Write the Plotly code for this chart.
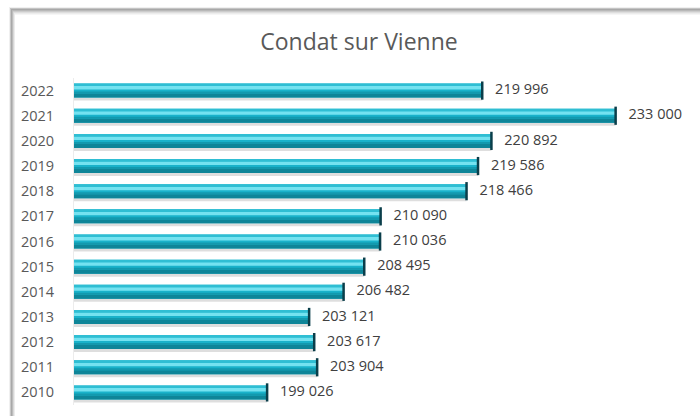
import plotly.graph_objects as go

years = ["2010", "2011", "2012", "2013", "2014", "2015", "2016", "2017", "2018", "2019", "2020", "2021", "2022"]
values = [199026, 203904, 203617, 203121, 206482, 208495, 210036, 210090, 218466, 219586, 220892, 233000, 219996]
labels = [f"{v:,}".replace(",", " ") for v in values]

U = 1 / 25.17  # one pixel in category units

fig = go.Figure()

def stripe(lo, hi, color):
    fig.add_trace(go.Bar(
        y=years, x=values, base=0, orientation="h",
        offset=lo * U, width=(hi - lo) * U,
        marker=dict(color=color, line=dict(width=0)),
        hoverinfo="skip", showlegend=False,
    ))

# shadow, body, dark underside, highlight, top edge
stripe(-10, -5, "rgba(0,0,0,0.13)")
stripe(-7, 7, "#19B2CA")
stripe(-7, -3, "#0E8598")
stripe(-3, -1, "#1399AE")
stripe(1, 4.5, "#74E2F0")
stripe(4.5, 7, "#2FBED3")

# dark end caps + value labels
fig.add_trace(go.Scatter(
    y=years, x=values, mode="markers+text",
    marker=dict(symbol="line-ns", size=13, line=dict(width=2.5, color="#0A3E4A")),
    text=labels, textposition="middle right",
    textfont=dict(family="Open Sans", size=14.5, color="#404040"),
    texttemplate=" %{text}",
    hoverinfo="skip", showlegend=False, cliponaxis=False,
))

# frame (shadowed border)
def px_x(p):
    return (p - 74) / 616

def px_y(p):
    return (405 - p) / 327

shapes = []
left_cols = ["#f0f0f0", "#c8c8c8", "#a8a8a8", "#bcbcbc", "#d8d8d8", "#ececec"]
for i, c in enumerate(left_cols):
    shapes.append(dict(type="rect", xref="paper", yref="paper",
                       x0=px_x(9 + i), x1=px_x(10 + i), y0=px_y(8 + i), y1=px_y(416),
                       fillcolor=c, line=dict(width=0), layer="below"))
top_cols = ["#f0f0f0", "#c4c4c4", "#a8a8a8", "#b8b8b8", "#cccccc", "#dedede", "#ececec", "#f6f6f6"]
for i, c in enumerate(top_cols):
    shapes.append(dict(type="rect", xref="paper", yref="paper",
                       x0=px_x(9 + i if i < 6 else 15), x1=px_x(700), y0=px_y(7 + i), y1=px_y(8 + i),
                       fillcolor=c, line=dict(width=0), layer="below"))

fig.update_layout(
    width=700, height=416,
    margin=dict(l=74, r=10, t=78, b=11),
    paper_bgcolor="white", plot_bgcolor="white",
    barmode="overlay",
    title=dict(text="Condat sur Vienne", x=359 / 700, xanchor="center",
               y=1 - 42 / 416, yanchor="middle",
               font=dict(family="Open Sans", size=23, color="#595959")),
    xaxis=dict(range=[180200, 240250], visible=False),
    yaxis=dict(type="category", range=[-0.5, 12.5], showgrid=False, zeroline=False,
               showline=True, linecolor="#ececec", linewidth=1,
               ticks="", ticklabelstandoff=16,
               tickfont=dict(family="Open Sans", size=14.5, color="#595959")),
    shapes=shapes,
    font=dict(family="Open Sans"),
)

fig.write_html("out.html")
